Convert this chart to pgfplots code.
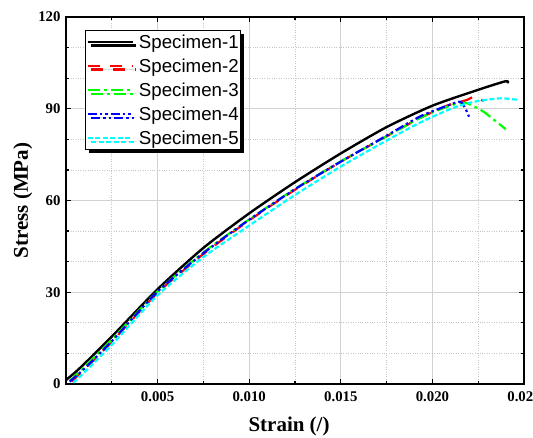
\documentclass[border=0pt]{standalone}
\usepackage{fontspec}
\setmainfont{Liberation Serif}
\newfontfamily\legfont{Liberation Sans}
\usepackage{pgfplots}
\pgfplotsset{compat=1.18}
\usetikzlibrary{calc,shadows}
\definecolor{sred}{HTML}{FF0000}
\definecolor{sgreen}{HTML}{00FF00}
\definecolor{sblue}{HTML}{0000FF}
\definecolor{scyan}{HTML}{00FFFF}

\begin{document}
\begin{tikzpicture}
\begin{axis}[
  name=ax,
  width=458bp, height=367bp, scale only axis,
  xmin=0, xmax=0.025, ymin=0, ymax=120,
  xtick={0,0.005,0.01,0.015,0.02,0.025},
  xticklabels={,0.005,0.010,0.015,0.020,0.025},
  scaled x ticks=false,
  minor x tick num=1,
  ytick={0,30,60,90,120},
  minor y tick num=2,
  grid=both,
  major grid style={gray!35, line width=0.8bp},
  minor grid style={gray!45, dotted, line width=0.8bp},
  axis line style={black, line width=1.6bp},
  major tick length=5bp, minor tick length=3bp,
  every tick/.style={black, line width=1.2bp},
  /pgf/number format/assume math mode=true,
  tick label style={font=\fontsize{14.8bp}{16bp}\selectfont\bfseries},
  xticklabel style={yshift=-4bp},
  yticklabel style={xshift=-2bp},
  xlabel={Strain (/)},
  ylabel={Stress (MPa)},
  label style={font=\fontsize{21bp}{24bp}\selectfont\bfseries},
  xlabel style={at={(axis description cs:0.487,-0.117)}, anchor=center},
  ylabel style={at={(axis description cs:-0.094,0.5)}, anchor=center},
  legend cell align=left,
  legend image code/.code={\draw[#1] (0bp,0bp) -- (45bp,0bp); \path (49bp,0bp);},
  legend style={at={(axis description cs:0.0415,0.9646)}, anchor=north west,
    draw=black, line width=1bp, fill=white,
    drop shadow={shadow xshift=3.5bp, shadow yshift=-3.5bp, fill=black, opacity=1},
    font=\legfont\fontsize{18.7bp}{22bp}\selectfont,
    inner xsep=1bp, inner ysep=4bp, row sep=9bp,
    nodes={inner xsep=1bp, inner ysep=0bp}},
]
\addplot[black, line width=2.4bp, smooth, tension=0.4] coordinates {
  (0,1.3)(0.0005,3.8)(0.001,6.6)(0.0025,15.5)(0.005,31)(0.0075,44.5)
  (0.010,55.8)(0.0125,66)(0.015,75.4)(0.0175,84)(0.020,91)(0.0225,96.2)
  (0.0240,99)(0.02412,98.3)
};
\addplot[sred, line width=2.2bp, dash pattern=on 12bp off 10bp, smooth, tension=0.4] coordinates {
  (0.0003,0.8)(0.001,4.8)(0.0025,13.8)(0.005,29.8)(0.0075,42.5)(0.010,53.5)
  (0.0125,63.5)(0.015,72.7)(0.0175,81)(0.0193,86.9)(0.0208,91)(0.0219,92.9)
  (0.0223,94)(0.0228,92.5)
};
\addplot[sgreen, line width=2.2bp, dash pattern=on 12bp off 4bp on 3bp off 4bp, smooth, tension=0.4] coordinates {
  (0.0002,1)(0.001,5.5)(0.0025,14.5)(0.005,30.3)(0.0075,43)(0.010,53.8)
  (0.0125,63.8)(0.015,72.8)(0.0175,81)(0.0193,86.9)(0.0205,90)(0.0214,91.8)
  (0.0219,91.8)(0.0228,89)(0.0240,83.3)
};
\addplot[sblue, line width=2.2bp, dash pattern=on 9bp off 3bp on 2.5bp off 3bp on 2.5bp off 3bp, smooth, tension=0.4] coordinates {
  (0.0002,0.8)(0.001,5)(0.0025,14)(0.005,30.2)(0.0075,42.8)(0.010,53.7)
  (0.0125,63.7)(0.015,72.7)(0.0175,81.2)(0.0193,87.4)(0.0205,90.3)(0.0215,92.3)
  (0.0218,90)(0.0220,87.4)
};
\addplot[scyan, line width=2.2bp, dash pattern=on 5bp off 2.5bp, smooth, tension=0.4] coordinates {
  (0.0004,0.4)(0.001,3.8)(0.0025,12.8)(0.005,29)(0.0075,41.5)(0.010,51.8)
  (0.0125,61.8)(0.015,71.1)(0.0175,79.6)(0.0193,85.4)(0.0211,90.2)(0.0223,92.3)
  (0.0237,93.4)(0.0247,92.9)
};
\legend{Specimen-1,Specimen-2,Specimen-3,Specimen-4,Specimen-5}
\end{axis}
\pgfresetboundingbox
\path ($(ax.south west)+(-66bp,-54bp)$) rectangle ($(ax.north east)+(9bp,17bp)$);
\end{tikzpicture}
\end{document}
